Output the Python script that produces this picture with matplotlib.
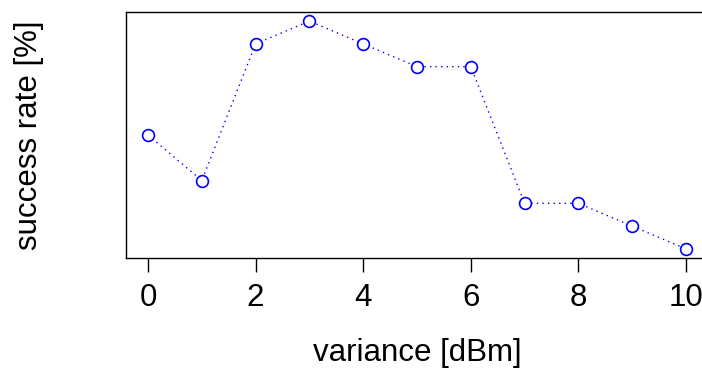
import matplotlib.pyplot as plt

plt.rcParams['font.family'] = ['Liberation Sans', 'DejaVu Sans']

variance = [0, 1, 2, 3, 4, 5, 6, 7, 8, 9, 10]
success = [5, 3, 9, 10, 9, 8, 8, 2, 2, 1, 0]
xticks = [0, 2, 4, 6, 8, 10]

W, H = 702, 369
# x=0 sits at pixel 148, x=10 at pixel 686; box is wider than the figure
px_per_unit = (686 - 148) / 10
left_px, right_px = 126, 800
x_lo = (left_px - 148) / px_per_unit
x_hi = (right_px - 148) / px_per_unit

fig = plt.figure(figsize=(W / 100, H / 100), dpi=100)
ax = fig.add_axes([left_px / W, 111 / H, (right_px - left_px) / W, 246 / H])

ax.plot(variance, success, color="blue", linestyle=(0, (1, 3)), linewidth=1,
        marker="o", markersize=8.5, markerfacecolor="white",
        markeredgecolor="blue", markeredgewidth=1.2)

ax.set_xlim(x_lo, x_hi)
ax.set_ylim(-0.4, 10.4)
ax.set_xticks(xticks)
ax.set_yticks([])
ax.tick_params(axis="x", length=10, width=1, labelsize=22.5, pad=8)
ax.spines["right"].set_visible(False)
for s in ax.spines.values():
    s.set_linewidth(1)

ax.set_xlabel("variance [dBm]", fontsize=22.5, va="center")
ax.xaxis.set_label_coords((417 - left_px) / (right_px - left_px), (258 - 353) / 246)
ax.set_ylabel("success rate [%]", fontsize=22.5, va="center")
ax.yaxis.set_label_coords((29 - left_px) / (right_px - left_px), 0.5)

fig.savefig("out.png", dpi=100)
